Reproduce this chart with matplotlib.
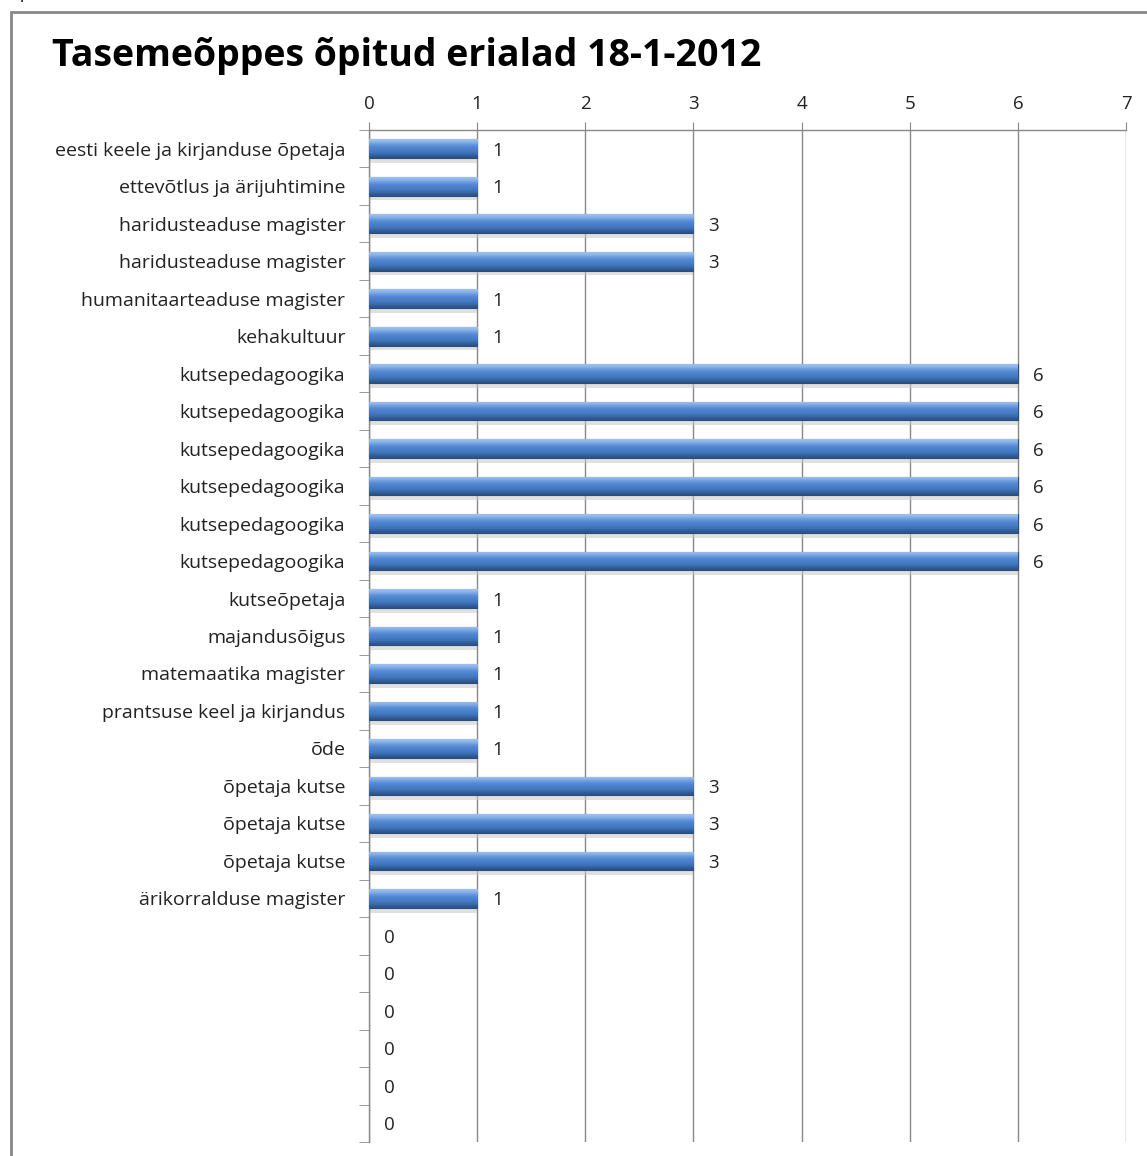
import matplotlib
matplotlib.use('Agg')
import matplotlib.pyplot as plt
import numpy as np
from matplotlib.patches import Rectangle

plt.rcParams['font.family'] = ['Open Sans', 'DejaVu Sans']

# andmed
erialad = [
    'eesti keele ja kirjanduse õpetaja', 'ettevõtlus ja ärijuhtimine',
    'haridusteaduse magister', 'haridusteaduse magister',
    'humanitaarteaduse magister', 'kehakultuur',
    'kutsepedagoogika', 'kutsepedagoogika', 'kutsepedagoogika',
    'kutsepedagoogika', 'kutsepedagoogika', 'kutsepedagoogika',
    'kutseõpetaja', 'majandusõigus', 'matemaatika magister',
    'prantsuse keel ja kirjandus', 'õde',
    'õpetaja kutse', 'õpetaja kutse', 'õpetaja kutse',
    'ärikorralduse magister', '', '', '', '', '', '',
]
arv = [1, 1, 3, 3, 1, 1, 6, 6, 6, 6, 6, 6, 1, 1, 1, 1, 1, 3, 3, 3, 1, 0, 0, 0, 0, 0, 0]
x_ticks = [0, 1, 2, 3, 4, 5, 6, 7]

fig = plt.figure(figsize=(11.47, 11.56), dpi=100)
ax = fig.add_axes([369 / 1147, 1 - 1142 / 1156, (1126 - 369) / 1147, (1142 - 130) / 1156])

y = np.arange(len(erialad))

# vari
ax.barh(y + 0.13, arv, height=0.5, color='#c8c8c8', alpha=0.55, zorder=2)
bars = ax.barh(y, arv, height=0.5, color='#4f81bd', edgecolor='#2c4d75', linewidth=0.8, zorder=3)

# gradient ribadele
grad = np.array([[0.95], [0.8], [0.62], [0.5], [0.4], [0.28], [0.08]])
cmap = matplotlib.colors.LinearSegmentedColormap.from_list('b', ['#26497a', '#3f75bc', '#5a90da', '#a9c9f0'])
for b in bars:
    w = b.get_width()
    if w <= 0:
        b.set_edgecolor('none')
        continue
    yy = b.get_y()
    h = b.get_height()
    im = ax.imshow(grad, cmap=cmap, vmin=0, vmax=1, aspect='auto',
                   extent=(0, w, yy + h, yy), zorder=4, interpolation='bicubic')
    im.set_clip_path(b)

for yi, v in zip(y, arv):
    ax.text(v + 0.14, yi, str(v), va='center_baseline', ha='left', fontsize=13.5,
            color='#222222', zorder=5)

ax.set_xlim(0, 7)
ax.set_ylim(len(erialad) - 0.5, -0.5)
ax.set_xticks(x_ticks)
ax.xaxis.tick_top()
ax.tick_params(axis='x', length=6, color='#888888', labelsize=13.5, pad=6, labelcolor='#222222')
ax.set_yticks(y)
ax.set_yticklabels(erialad)
ax.tick_params(axis='y', which='major', length=0, pad=17, labelsize=14, labelcolor='#222222')
ax.set_yticks(np.arange(len(erialad) + 1) - 0.5, minor=True)
ax.tick_params(axis='y', which='minor', length=7, color='#888888')
ax.grid(axis='x', color='#888888', linewidth=1, zorder=1)
ax.set_axisbelow(True)
for s in ['right', 'bottom']:
    ax.spines[s].set_visible(False)
for s in ['top', 'left']:
    ax.spines[s].set_color('#888888')
    ax.spines[s].set_linewidth(1)

# raam
fig.patches.append(Rectangle((11 / 1147, -0.05), 1.1, 1 - 12 / 1156 + 0.05,
                             transform=fig.transFigure, fill=False,
                             edgecolor='#888888', linewidth=2))
fig.text(52 / 1147, 1 - 56 / 1156, 'Tasemeõppes õpitud erialad 18-1-2012',
         fontsize=27, fontweight='bold', va='center', ha='left')
fig.text(20 / 1147, 1 + 2 / 1156, 'p', fontsize=12, va='baseline', ha='left')

fig.savefig('out.png', dpi=100)
